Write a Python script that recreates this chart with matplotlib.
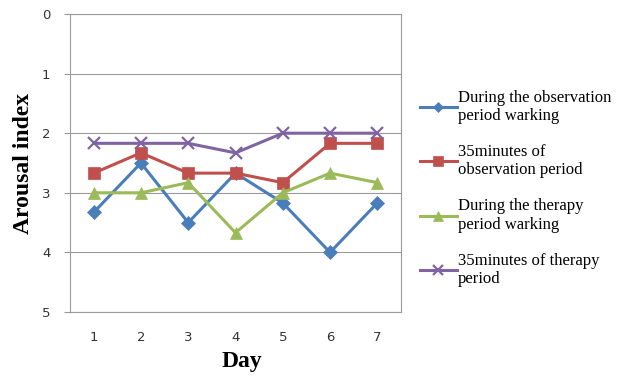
import matplotlib
matplotlib.use("Agg")
import matplotlib.pyplot as plt

days = [1, 2, 3, 4, 5, 6, 7]
obs_working = [3.33, 2.5, 3.5, 2.67, 3.17, 4.0, 3.17]
obs_35min = [2.67, 2.33, 2.67, 2.67, 2.83, 2.17, 2.17]
ther_working = [3.0, 3.0, 2.83, 3.67, 3.0, 2.67, 2.83]
ther_35min = [2.17, 2.17, 2.17, 2.33, 2.0, 2.0, 2.0]
labels = ["During the observation\nperiod warking",
          "35minutes of\nobservation period",
          "During the therapy\nperiod warking",
          "35minutes of therapy\nperiod"]
y_ticks = [0, 1, 2, 3, 4, 5]

fig = plt.figure(figsize=(6.19, 3.8), dpi=100)
ax = fig.add_axes([70/619, 68/380, 331/619, 298/380])

series = [
    (obs_working, "#4A7EBB", "D", 7),
    (obs_35min, "#C0504D", "s", 8.5),
    (ther_working, "#9BBB59", "^", 8.5),
    (ther_35min, "#8064A2", "x", 8.5),
]
for (vals, col, mk, ms), lab in zip(series, labels):
    ax.plot(days, vals, color=col, marker=mk, markersize=ms, linewidth=2.2,
            markeredgewidth=1.6 if mk == "x" else 0.5, markeredgecolor=col,
            label=lab, zorder=3)

ax.set_xlim(0.5, 7.5)
ax.set_ylim(5, 0)
ax.set_yticks(y_ticks)
ax.set_xticks(days)
ax.yaxis.grid(True, color="#9a9a9a", linewidth=0.8)
ax.set_axisbelow(True)
for s in ax.spines.values():
    s.set_color("#9a9a9a")
    s.set_linewidth(0.8)
ax.tick_params(axis="y", length=4, color="#9a9a9a", labelsize=9.5, pad=10,
               labelcolor="#333333")
ax.tick_params(axis="x", length=0, labelsize=9.5, pad=13.4, labelcolor="#333333")

ax.set_xlabel("Day", family="Liberation Serif", fontweight="bold", fontsize=17, labelpad=6)
ax.set_ylabel("Arousal index", family="Liberation Serif", fontweight="bold", fontsize=17, labelpad=5.5)
ax.xaxis.set_label_coords((242 - 70) / 331, -0.13)
ax.xaxis.label.set_va("top")

leg = fig.legend(loc="upper left", bbox_to_anchor=(413/619, 1 - 83/380),
                 frameon=False, prop={"family": "Liberation Serif", "size": 12},
                 handlelength=2.25, handletextpad=0.05, labelspacing=1.2,
                 borderaxespad=0, markerscale=0.8)

fig.savefig("out.png", dpi=100)
